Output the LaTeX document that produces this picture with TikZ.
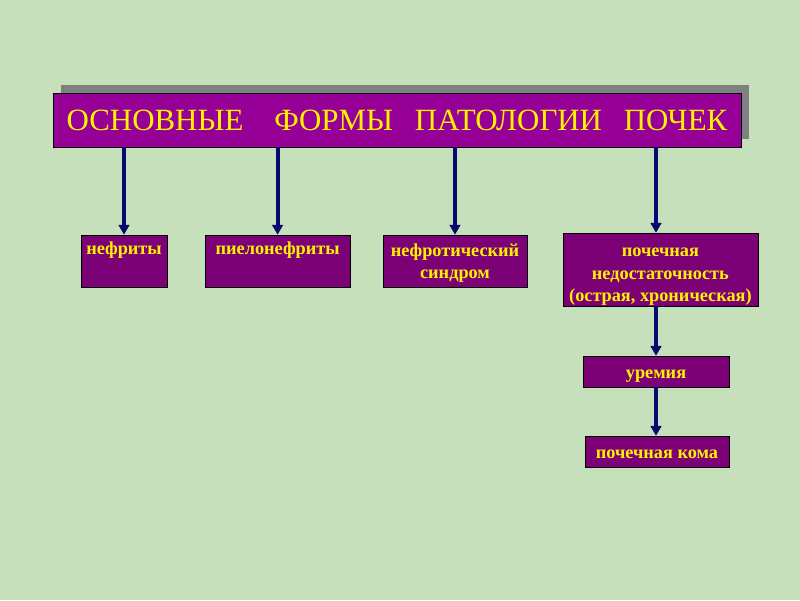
\documentclass[tikz,border=0pt]{standalone}
\usepackage{fontspec}
\setmainfont{Liberation Serif}
\usepackage{xcolor}
\usepackage{tikz}
\usetikzlibrary{shapes.geometric, arrows, arrows.meta}
\usetikzlibrary{positioning,shadows,calc}
\definecolor{bgreen}{RGB}{198,224,188}
\definecolor{tpurple}{RGB}{150,0,150}
\definecolor{bpurple}{RGB}{124,0,118}
\definecolor{anavy}{RGB}{8,8,110}
\tikzstyle{titlebox} = [rectangle, draw=black, fill=tpurple, text=yellow, font=\fontsize{22}{26}\selectfont, minimum width=17.2cm, minimum height=1.35cm, drop shadow={shadow xshift=0.2cm, shadow yshift=0.2cm, fill=gray, opacity=1}]
\tikzstyle{formbox} = [rectangle, draw=black, fill=bpurple, text=yellow, font=\fontsize{13}{16}\selectfont\bfseries, inner sep=2pt, text depth=0pt]
\tikzstyle{multiline} = [align=center]
\tikzstyle{toptext} = [text depth=0.64cm]
\tikzstyle{midtext} = [text height=10pt]
\tikzstyle{arrow} = [line width=2.8pt, -{Triangle[length=7pt,width=7.5pt]}, draw=anavy, fill=anavy]

\begin{document}
\begin{tikzpicture}

\fill[bgreen] (0,0) rectangle (20,-15);
\useasboundingbox (0,0) rectangle (20,-15);

\node[titlebox] (forms) at (9.925,-3.0) {ОСНОВНЫЕ\hspace{22pt}ФОРМЫ\hspace{15.5pt}ПАТОЛОГИИ\hspace{15.5pt}ПОЧЕК};

\node[formbox, toptext, minimum width=2.15cm, minimum height=1.3cm] (nephr) at (3.1,-6.525) {нефриты};
\node[formbox, toptext, minimum width=3.625cm, minimum height=1.3cm] (pyelo) at (6.94,-6.525) {пиелонефриты};
\node[formbox, multiline, minimum width=3.6cm, minimum height=1.3cm] (syndr) at (11.375,-6.525) {нефротический\\синдром};
\node[formbox, multiline, text height=46pt, minimum width=4.875cm, minimum height=1.825cm] (renal) at (16.51,-6.74) {почечная\\недостаточность\\(острая, хроническая)};
\node[formbox, midtext, minimum width=3.65cm, minimum height=0.775cm] (uremia) at (16.4,-9.29) {уремия};
\node[formbox, midtext, minimum width=3.6cm, minimum height=0.775cm] (coma) at (16.425,-11.29) {почечная кома};

\draw[arrow] (forms.south -| nephr.north) -- (nephr.north);
\draw[arrow] (forms.south -| pyelo.north) -- (pyelo.north);
\draw[arrow] (forms.south -| syndr.north) -- (syndr.north);
\draw[arrow] (forms.south -| uremia.north) -- (renal.north -| uremia.north);
\draw[arrow] (renal.south -| uremia.north) -- (uremia.north);
\draw[arrow] (uremia.south) -- (coma.north -| uremia.south);
\end{tikzpicture}
\end{document}
